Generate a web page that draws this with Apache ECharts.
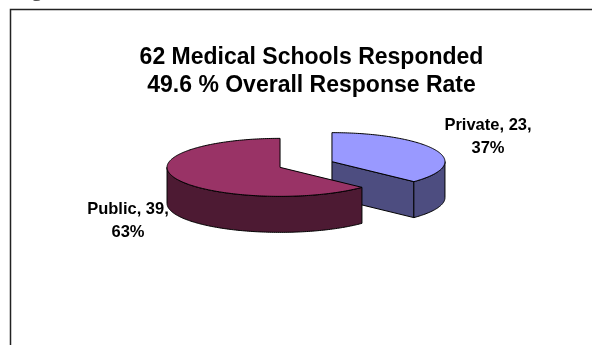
<!DOCTYPE html>
<html>
<head>
<meta charset="utf-8">
<script src="https://cdn.jsdelivr.net/npm/echarts@6/dist/echarts.min.js"></script>
<style>
html,body{margin:0;padding:0;background:#fff;}
#chart{width:592px;height:345px;}
</style>
</head>
<body>
<div id="chart"></div>
<script>
// ---- data ----
const categories = ['Private', 'Public'];
const counts = [23, 39];
const titleLines = ['62 Medical Schools Responded', '49.6 % Overall Response Rate'];

// ---- styles / layout ----
const topColors = ['#9999FF', '#993366'];
const wallColors = ['#4D4D80', '#4D1A33'];
const PIE = { cx: 306, cy: 164.5, rx: 113, ry: 29, depth: 36, explode: 0.25 };
const labelPos = [[488, 136.5], [128, 221]];
const FONT = '"Liberation Sans", Arial, sans-serif';

const total = counts.reduce((a, b) => a + b, 0);
const rad = d => d * Math.PI / 180;

function renderItem(params, api) {
  const i = params.dataIndex;
  const v = api.value(0);
  let before = 0;
  for (let k = 0; k < i; k++) before += counts[k];
  const start = before / total * 360;
  const end = start + v / total * 360;
  const mid = (start + end) / 2;
  const ax = PIE.cx + PIE.explode * PIE.rx * Math.sin(rad(mid));
  const ay = PIE.cy - PIE.explode * PIE.ry * Math.cos(rad(mid));
  const pt = (t, dz) => [ax + PIE.rx * Math.sin(rad(t)), ay - PIE.ry * Math.cos(rad(t)) + dz];
  const arc = (a, b, dz) => {
    const pts = [];
    const n = Math.max(2, Math.ceil(b - a));
    for (let s = 0; s <= n; s++) pts.push(pt(a + (b - a) * s / n, dz));
    return pts;
  };
  const edge = { stroke: '#000', lineWidth: 1, lineJoin: 'round' };
  const children = [];
  const addRadial = (t) => {
    children.push({
      type: 'polygon',
      shape: { points: [[ax, ay], pt(t, 0), pt(t, PIE.depth), [ax, ay + PIE.depth]] },
      style: Object.assign({ fill: wallColors[i] }, edge)
    });
  };
  if (Math.cos(rad(start - 90)) < -1e-6) addRadial(start);
  if (Math.cos(rad(end + 90)) < -1e-6) addRadial(end);
  const ws = Math.max(start, 90), we = Math.min(end, 270);
  if (we > ws) {
    children.push({
      type: 'polygon',
      shape: { points: arc(ws, we, 0).concat(arc(ws, we, PIE.depth).reverse()) },
      style: Object.assign({ fill: wallColors[i] }, edge)
    });
  }
  children.push({
    type: 'polygon',
    shape: { points: [[ax, ay]].concat(arc(start, end, 0)) },
    style: Object.assign({ fill: topColors[i] }, edge)
  });
  const pct = Math.round(v / total * 100);
  children.push({
    type: 'text',
    x: labelPos[i][0],
    y: labelPos[i][1],
    style: {
      text: categories[i] + ', ' + v + ',\n' + pct + '%',
      font: 'bold 16.5px ' + FONT,
      fill: '#000',
      align: 'center',
      verticalAlign: 'middle',
      textAlign: 'center',
      textVerticalAlign: 'middle',
      lineHeight: 23
    }
  });
  return { type: 'group', children: children };
}

const chart = echarts.init(document.getElementById('chart'), null, { renderer: 'canvas' });
chart.setOption({
  backgroundColor: '#fff',
  animation: false,
  graphic: [
    {
      type: 'rect', silent: true, z: -1,
      shape: { x: 10.5, y: 9.5, width: 800, height: 600 },
      style: { fill: 'none', stroke: '#222', lineWidth: 1.5 }
    },
    {
      type: 'text', silent: true, x: 37, y: 0.5,
      style: { text: 'g', font: 'bold 22px ' + FONT, fill: '#555',
        align: 'center', verticalAlign: 'bottom', textAlign: 'center', textVerticalAlign: 'bottom' }
    },
    {
      type: 'text', silent: true, x: 311.5, y: 72,
      style: { text: titleLines.join('\n'), font: 'bold 23px ' + FONT, fill: '#000',
        align: 'center', verticalAlign: 'middle', textAlign: 'center', textVerticalAlign: 'middle',
        lineHeight: 28 }
    }
  ],
  series: [{
    type: 'custom',
    coordinateSystem: 'none',
    renderItem: renderItem,
    data: counts.map((v, i) => ({ name: categories[i], value: [v] }))
  }]
});
</script>
</body>
</html>
